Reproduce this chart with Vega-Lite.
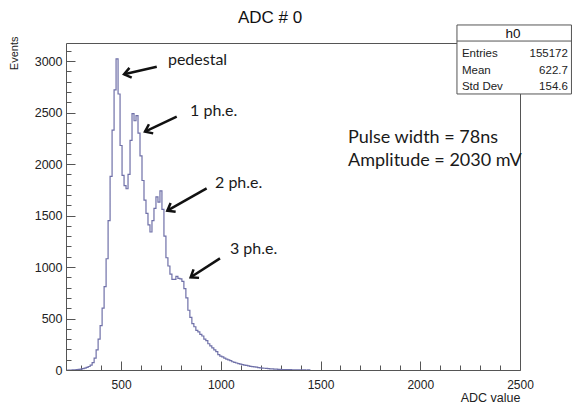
{
  "$schema": "https://vega.github.io/schema/vega-lite/v6.json",
  "width": 454,
  "height": 327,
  "autosize": "none",
  "padding": {"left": 66, "top": 43, "right": 52, "bottom": 37},
  "background": "white",
  "title": {"text": "ADC # 0", "font": "Liberation Sans", "fontSize": 17, "fontWeight": "normal", "color": "#111111", "anchor": "middle", "frame": "group", "dx": -23, "dy": 19, "offset": 3, "baseline": "alphabetic"},
  "config": {
    "view": {"stroke": "#555555", "strokeWidth": 1},
    "axis": {"domain": false, "grid": false, "tickColor": "#555555", "tickWidth": 1, "labelFont": "Liberation Sans", "labelFontSize": 12.5, "labelColor": "#222222", "titleFont": "Liberation Sans", "titleFontWeight": "normal", "titleColor": "#222222", "labelOverlap": false, "labelFlush": false, "format": "d"}
  },
  "resolve": {"axis": {"x": "independent", "y": "independent"}},
  "datasets": {
    "hist": [
      {"adc": 230, "events": 0}, {"adc": 240, "events": 0},
      {"adc": 250, "events": 0}, {"adc": 260, "events": 1}, {"adc": 270, "events": 2}, {"adc": 280, "events": 4},
      {"adc": 290, "events": 6}, {"adc": 300, "events": 9}, {"adc": 310, "events": 13}, {"adc": 320, "events": 18},
      {"adc": 330, "events": 25}, {"adc": 340, "events": 34}, {"adc": 350, "events": 48}, {"adc": 360, "events": 72},
      {"adc": 370, "events": 115}, {"adc": 380, "events": 195}, {"adc": 390, "events": 300}, {"adc": 400, "events": 430},
      {"adc": 410, "events": 600}, {"adc": 420, "events": 810}, {"adc": 430, "events": 1080}, {"adc": 440, "events": 1450},
      {"adc": 450, "events": 1880}, {"adc": 460, "events": 2330}, {"adc": 470, "events": 2720}, {"adc": 480, "events": 3020},
      {"adc": 490, "events": 2680}, {"adc": 500, "events": 2180}, {"adc": 510, "events": 1890}, {"adc": 520, "events": 1790},
      {"adc": 530, "events": 1760}, {"adc": 540, "events": 1900}, {"adc": 550, "events": 2230}, {"adc": 560, "events": 2490},
      {"adc": 570, "events": 2420}, {"adc": 580, "events": 2470}, {"adc": 590, "events": 2300}, {"adc": 600, "events": 2080},
      {"adc": 610, "events": 1840}, {"adc": 620, "events": 1650}, {"adc": 630, "events": 1520}, {"adc": 640, "events": 1410},
      {"adc": 650, "events": 1340}, {"adc": 660, "events": 1450}, {"adc": 670, "events": 1570}, {"adc": 680, "events": 1680},
      {"adc": 690, "events": 1630}, {"adc": 700, "events": 1740}, {"adc": 710, "events": 1560}, {"adc": 720, "events": 1300},
      {"adc": 730, "events": 1090}, {"adc": 740, "events": 1010}, {"adc": 750, "events": 930}, {"adc": 760, "events": 880},
      {"adc": 770, "events": 880}, {"adc": 780, "events": 910}, {"adc": 790, "events": 890}, {"adc": 800, "events": 885},
      {"adc": 810, "events": 860}, {"adc": 820, "events": 790}, {"adc": 830, "events": 700}, {"adc": 840, "events": 580},
      {"adc": 850, "events": 510}, {"adc": 860, "events": 450}, {"adc": 870, "events": 420}, {"adc": 880, "events": 385},
      {"adc": 890, "events": 370}, {"adc": 900, "events": 345}, {"adc": 910, "events": 330}, {"adc": 920, "events": 300},
      {"adc": 930, "events": 285}, {"adc": 940, "events": 255}, {"adc": 950, "events": 235}, {"adc": 960, "events": 215},
      {"adc": 970, "events": 195}, {"adc": 980, "events": 178}, {"adc": 990, "events": 150}, {"adc": 1000, "events": 135},
      {"adc": 1010, "events": 128}, {"adc": 1020, "events": 115}, {"adc": 1030, "events": 105}, {"adc": 1040, "events": 98},
      {"adc": 1050, "events": 92}, {"adc": 1060, "events": 80}, {"adc": 1070, "events": 75}, {"adc": 1080, "events": 68},
      {"adc": 1090, "events": 62}, {"adc": 1100, "events": 58}, {"adc": 1110, "events": 52}, {"adc": 1120, "events": 48},
      {"adc": 1130, "events": 44}, {"adc": 1140, "events": 40}, {"adc": 1150, "events": 36}, {"adc": 1160, "events": 33},
      {"adc": 1170, "events": 30}, {"adc": 1180, "events": 27}, {"adc": 1190, "events": 24}, {"adc": 1200, "events": 21},
      {"adc": 1210, "events": 19}, {"adc": 1220, "events": 17}, {"adc": 1230, "events": 15}, {"adc": 1240, "events": 13},
      {"adc": 1250, "events": 11}, {"adc": 1260, "events": 10}, {"adc": 1270, "events": 9}, {"adc": 1280, "events": 8},
      {"adc": 1290, "events": 7}, {"adc": 1300, "events": 6}, {"adc": 1310, "events": 5}, {"adc": 1320, "events": 5},
      {"adc": 1330, "events": 4}, {"adc": 1340, "events": 3}, {"adc": 1350, "events": 3}, {"adc": 1360, "events": 2},
      {"adc": 1370, "events": 2}, {"adc": 1380, "events": 2}, {"adc": 1390, "events": 1}, {"adc": 1400, "events": 1},
      {"adc": 1410, "events": 1}, {"adc": 1420, "events": 1}, {"adc": 1430, "events": 0}, {"adc": 1440, "events": 1},
      {"adc": 1450, "events": 0}
    ],
    "arrows": [
      {"name": "pedestal", "x": 679, "y": 2945, "x2": 515, "y2": 2871},
      {"name": "1 ph.e.", "x": 779, "y": 2459, "x2": 620, "y2": 2314},
      {"name": "2 ph.e.", "x": 929, "y": 1764, "x2": 732, "y2": 1547},
      {"name": "3 ph.e.", "x": 996, "y": 1084, "x2": 849, "y2": 900}
    ],
    "peaks": [
      {"name": "pedestal", "x": 735, "y": 2961},
      {"name": "1 ph.e.", "x": 846, "y": 2466},
      {"name": "2 ph.e.", "x": 971, "y": 1767},
      {"name": "3 ph.e.", "x": 1046, "y": 1126}
    ],
    "info": [
      {"text": "Pulse width = 78ns", "x": 1638, "y": 2204},
      {"text": "Amplitude = 2030 mV", "x": 1638, "y": 1981}
    ],
    "box": [{"x": 2184, "x2": 2758, "y": 2680, "y2": 3350, "ydiv": 3194, "name": "h0", "xc": 2465, "yc": 3223}],
    "stats": [
      {"key": "Entries", "value": "155172", "y": 3039},
      {"key": "Mean", "value": "622.7", "y": 2874},
      {"key": "Std Dev", "value": "154.6", "y": 2718}
    ]
  },
  "layer": [
    {
      "data": {"name": "hist"},
      "mark": {"type": "line", "interpolate": "step", "strokeOpacity": 0, "clip": true},
      "encoding": {
        "x": {"field": "adc", "type": "quantitative", "scale": {"domain": [224, 2500], "nice": false, "zero": false},
          "axis": {"orient": "bottom", "title": null, "labels": false, "tickSize": -5,
            "values": [300,400,600,700,800,900,1100,1200,1300,1400,1600,1700,1800,1900,2100,2200,2300,2400]}},
        "y": {"field": "events", "type": "quantitative", "scale": {"domain": [0, 3175], "nice": false},
          "axis": {"orient": "left", "title": null, "labels": false, "tickSize": -5,
            "values": [100,200,300,400,600,700,800,900,1100,1200,1300,1400,1600,1700,1800,1900,2100,2200,2300,2400,2600,2700,2800,2900,3100]}}
      }
    },
    {
      "data": {"name": "hist"},
      "mark": {"type": "line", "interpolate": "step", "color": "#6f70a8", "strokeWidth": 1.2, "clip": true},
      "encoding": {
        "x": {"field": "adc", "type": "quantitative",
          "axis": {"orient": "bottom", "title": "ADC value", "titleAnchor": "end", "titleFontSize": 12.5, "titlePadding": 1,
            "values": [500, 1000, 1500, 2000, 2500], "tickSize": -9, "labelPadding": 18, "labelFontSize": 12}},
        "y": {"field": "events", "type": "quantitative",
          "axis": {"orient": "left", "title": "Events", "titleFontSize": 11, "titleAnchor": "end", "titleAlign": "right", "titleX": -52, "titleY": -7, "titleBaseline": "middle",
            "values": [0, 500, 1000, 1500, 2000, 2500, 3000], "tickSize": -9, "labelPadding": 13}}
      }
    },
    {
      "data": {"name": "arrows"},
      "mark": {"type": "rule", "color": "#111111", "strokeWidth": 2.5},
      "encoding": {
        "x": {"field": "x", "type": "quantitative", "axis": null},
        "y": {"field": "y", "type": "quantitative", "axis": null},
        "x2": {"field": "x2"},
        "y2": {"field": "y2"}
      }
    },
    {
      "data": {"name": "arrows"},
      "transform": [{"filter": "datum.name === 'pedestal'"}],
      "mark": {"type": "point", "shape": "M -1 -0.75 L 0 0 L -1 0.75", "filled": false, "stroke": "#111111", "strokeWidth": 2.5, "size": 180, "angle": 167, "opacity": 1},
      "encoding": {"x": {"field": "x2", "type": "quantitative", "axis": null}, "y": {"field": "y2", "type": "quantitative", "axis": null}}
    },
    {
      "data": {"name": "arrows"},
      "transform": [{"filter": "datum.name === '1 ph.e.'"}],
      "mark": {"type": "point", "shape": "M -1 -0.75 L 0 0 L -1 0.75", "filled": false, "stroke": "#111111", "strokeWidth": 2.5, "size": 180, "angle": 155, "opacity": 1},
      "encoding": {"x": {"field": "x2", "type": "quantitative", "axis": null}, "y": {"field": "y2", "type": "quantitative", "axis": null}}
    },
    {
      "data": {"name": "arrows"},
      "transform": [{"filter": "datum.name === '2 ph.e.'"}],
      "mark": {"type": "point", "shape": "M -1 -0.75 L 0 0 L -1 0.75", "filled": false, "stroke": "#111111", "strokeWidth": 2.5, "size": 180, "angle": 150, "opacity": 1},
      "encoding": {"x": {"field": "x2", "type": "quantitative", "axis": null}, "y": {"field": "y2", "type": "quantitative", "axis": null}}
    },
    {
      "data": {"name": "arrows"},
      "transform": [{"filter": "datum.name === '3 ph.e.'"}],
      "mark": {"type": "point", "shape": "M -1 -0.75 L 0 0 L -1 0.75", "filled": false, "stroke": "#111111", "strokeWidth": 2.5, "size": 180, "angle": 147, "opacity": 1},
      "encoding": {"x": {"field": "x2", "type": "quantitative", "axis": null}, "y": {"field": "y2", "type": "quantitative", "axis": null}}
    },
    {
      "data": {"name": "peaks"},
      "mark": {"type": "text", "font": "Lato", "fontSize": 16, "align": "left", "baseline": "alphabetic", "color": "#1a1a1a"},
      "encoding": {"x": {"field": "x", "type": "quantitative", "axis": null}, "y": {"field": "y", "type": "quantitative", "axis": null}, "text": {"field": "name"}}
    },
    {
      "data": {"name": "info"},
      "mark": {"type": "text", "font": "Lato", "fontSize": 18, "align": "left", "baseline": "alphabetic", "color": "#1a1a1a"},
      "encoding": {"x": {"field": "x", "type": "quantitative", "axis": null}, "y": {"field": "y", "type": "quantitative", "axis": null}, "text": {"field": "text"}}
    },
    {
      "data": {"name": "box"},
      "mark": {"type": "rect", "fill": "white", "stroke": "#555555", "strokeWidth": 1, "clip": false},
      "encoding": {"x": {"field": "x", "type": "quantitative", "axis": null}, "x2": {"field": "x2"}, "y": {"field": "y", "type": "quantitative", "axis": null}, "y2": {"field": "y2"}}
    },
    {
      "data": {"name": "box"},
      "mark": {"type": "rule", "color": "#555555", "strokeWidth": 1, "clip": false},
      "encoding": {"x": {"field": "x", "type": "quantitative", "axis": null}, "x2": {"field": "x2"}, "y": {"field": "ydiv", "type": "quantitative", "axis": null}}
    },
    {
      "data": {"name": "box"},
      "mark": {"type": "text", "font": "Liberation Sans", "fontSize": 13.5, "align": "center", "baseline": "alphabetic", "color": "#111111", "clip": false},
      "encoding": {"x": {"field": "xc", "type": "quantitative", "axis": null}, "y": {"field": "yc", "type": "quantitative", "axis": null}, "text": {"field": "name"}}
    },
    {
      "data": {"name": "stats"},
      "mark": {"type": "text", "font": "Liberation Sans", "fontSize": 11.5, "align": "left", "baseline": "alphabetic", "color": "#222222", "clip": false},
      "encoding": {"x": {"datum": 2209, "type": "quantitative", "axis": null}, "y": {"field": "y", "type": "quantitative", "axis": null}, "text": {"field": "key"}}
    },
    {
      "data": {"name": "stats"},
      "mark": {"type": "text", "font": "Liberation Sans", "fontSize": 11.5, "align": "right", "baseline": "alphabetic", "color": "#222222", "clip": false},
      "encoding": {"x": {"datum": 2740, "type": "quantitative", "axis": null}, "y": {"field": "y", "type": "quantitative", "axis": null}, "text": {"field": "value"}}
    }
  ]
}
